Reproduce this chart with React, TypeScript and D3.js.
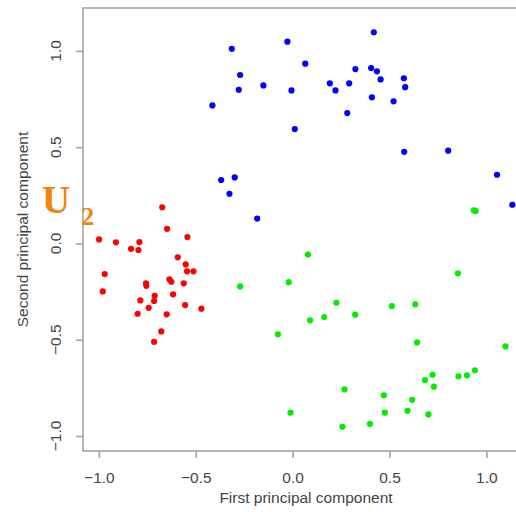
import React, { useEffect, useRef } from 'react'
import * as d3 from 'd3'

// points, [first PC, second PC]
const redPoints: [number, number][] = [
  [-0.673, 0.188], [-0.648, 0.076], [-0.543, 0.033], [-0.999, 0.021],
  [-0.912, 0.006], [-0.791, 0.007], [-0.834, -0.028], [-0.796, -0.034],
  [-0.593, -0.072], [-0.552, -0.109], [-0.545, -0.145], [-0.512, -0.145],
  [-0.97, -0.159], [-0.98, -0.249], [-0.757, -0.207], [-0.755, -0.22],
  [-0.636, -0.186], [-0.626, -0.199], [-0.562, -0.207], [-0.617, -0.264],
  [-0.712, -0.272], [-0.715, -0.299], [-0.786, -0.296], [-0.743, -0.334],
  [-0.555, -0.32], [-0.471, -0.339], [-0.8, -0.365], [-0.65, -0.368],
  [-0.678, -0.457], [-0.715, -0.511],
]

const bluePoints: [number, number][] = [
  [-0.314, 1.011], [-0.271, 0.875], [-0.278, 0.798], [-0.414, 0.717],
  [-0.369, 0.329], [-0.299, 0.343], [-0.326, 0.258], [-0.183, 0.129],
  [-0.027, 1.048], [0.419, 1.097], [0.065, 0.934], [0.324, 0.906],
  [0.405, 0.911], [0.435, 0.894], [0.454, 0.852], [0.574, 0.858],
  [0.581, 0.812], [-0.151, 0.821], [-0.006, 0.795], [0.192, 0.832],
  [0.221, 0.795], [0.292, 0.832], [0.409, 0.759], [0.521, 0.738],
  [0.282, 0.677], [0.011, 0.594], [0.576, 0.476], [0.803, 0.482],
  [1.055, 0.357], [1.134, 0.201],
]

const greenPoints: [number, number][] = [
  [0.935, 0.172], [0.945, 0.169], [0.079, -0.058], [-0.271, -0.223],
  [0.853, -0.155], [-0.02, -0.201], [0.226, -0.308], [0.512, -0.325],
  [0.633, -0.316], [0.09, -0.399], [0.163, -0.382], [0.323, -0.37],
  [-0.076, -0.472], [0.642, -0.514], [1.099, -0.535], [0.722, -0.682],
  [0.683, -0.71], [0.729, -0.744], [0.856, -0.69], [0.9, -0.685],
  [0.941, -0.659], [0.268, -0.758], [0.471, -0.789], [0.617, -0.812],
  [-0.011, -0.879], [0.476, -0.879], [0.593, -0.869], [0.701, -0.888],
  [0.257, -0.952], [0.399, -0.937],
]

const ticks = [-1, -0.5, 0, 0.5, 1]
const tickLabels = ['\u22121.0', '\u22120.5', '0.0', '0.5', '1.0']

const groups = [
  { points: redPoints, color: '#ff0000' },
  { points: bluePoints, color: '#0000ff' },
  { points: greenPoints, color: '#00ee00' },
]

function App() {
  const ref = useRef<SVGSVGElement>(null)

  useEffect(() => {
    const svg = d3.select(ref.current)
    svg.selectAll('*').remove()

    const left = 83
    const right = 529
    const top = 8
    const bottom = 451

    const x = d3.scaleLinear().domain([-1.082, 1.22]).range([left, right])
    const y = d3.scaleLinear().domain([-1.078, 1.223]).range([bottom, top])

    const axisColor = '#a3a3a3'
    const textColor = '#444'
    const font = '"Liberation Sans", Arial, sans-serif'

    svg
      .append('rect')
      .attr('width', 516)
      .attr('height', 512)
      .attr('fill', '#fff')

    const defs = svg.append('defs')
    defs
      .append('filter')
      .attr('id', 'soft')
      .append('feGaussianBlur')
      .attr('stdDeviation', 0.6)

    // box (right side falls off the picture)
    svg
      .append('rect')
      .attr('x', left)
      .attr('y', top)
      .attr('width', right - left)
      .attr('height', bottom - top)
      .attr('fill', 'none')
      .attr('stroke', axisColor)
      .attr('stroke-width', 1.6)

    // x axis
    const xAxis = svg
      .append('g')
      .attr('transform', `translate(0, ${bottom})`)
      .call(
        d3
          .axisBottom(x)
          .tickValues(ticks)
          .tickSize(7)
          .tickPadding(14)
          .tickFormat((d, i) => tickLabels[i]),
      )
    xAxis.select('.domain').remove()
    xAxis.selectAll('line').attr('stroke', axisColor).attr('stroke-width', 1.6)
    xAxis
      .selectAll('text')
      .attr('fill', textColor)
      .style('font-family', font)
      .style('font-size', '15.5px')

    // y axis, labels turned like R does
    const yAxis = svg
      .append('g')
      .attr('transform', `translate(${left}, 0)`)
      .call(d3.axisLeft(y).tickValues(ticks).tickSize(7).tickFormat(() => ''))
    yAxis.select('.domain').remove()
    yAxis.selectAll('line').attr('stroke', axisColor).attr('stroke-width', 1.6)

    svg
      .append('g')
      .selectAll('text')
      .data(ticks)
      .enter()
      .append('text')
      .attr('transform', (d) => `translate(61, ${y(d)}) rotate(-90)`)
      .attr('text-anchor', 'middle')
      .attr('fill', textColor)
      .style('font-family', font)
      .style('font-size', '15.5px')
      .text((d, i) => tickLabels[i])

    svg
      .append('text')
      .attr('x', (left + right) / 2)
      .attr('y', 503)
      .attr('text-anchor', 'middle')
      .attr('fill', textColor)
      .style('font-family', font)
      .style('font-size', '15.5px')
      .text('First principal component')

    svg
      .append('text')
      .attr('transform', `translate(28, ${(top + bottom) / 2}) rotate(-90)`)
      .attr('text-anchor', 'middle')
      .attr('fill', textColor)
      .style('font-family', font)
      .style('font-size', '15.5px')
      .text('Second principal component')

    // the points
    groups.forEach((g) => {
      svg
        .append('g')
        .attr('filter', 'url(#soft)')
        .selectAll('circle')
        .data(g.points)
        .enter()
        .append('circle')
        .attr('cx', (d) => x(d[0]))
        .attr('cy', (d) => y(d[1]))
        .attr('r', 3.1)
        .attr('fill', g.color)
    })

    // U2 label
    const label = svg
      .append('text')
      .attr('x', 42)
      .attr('y', 213)
      .attr('fill', '#f5820a')
      .style('font-family', '"Liberation Serif", "Times New Roman", serif')
      .style('font-weight', 'bold')
    label.append('tspan').style('font-size', '39px').text('U')
    label
      .append('tspan')
      .attr('dx', 11)
      .attr('dy', 12)
      .style('font-size', '26px')
      .text('2')
  }, [])

  return (
    <svg
      ref={ref}
      width={516}
      height={512}
      style={{ position: 'absolute', left: 0, top: 0 }}
    />
  )
}

export default App
